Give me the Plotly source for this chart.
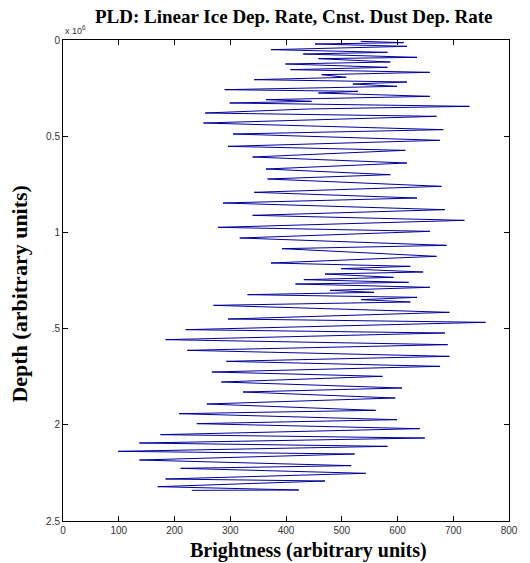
import plotly.graph_objects as go

# Brightness (arbitrary units) and depth (x 10^6, arbitrary units)
brightness = [
    534, 611, 452, 617, 373, 582, 431, 635, 458, 587, 399, 582, 408, 658, 464, 508,
    343, 617, 520, 599, 290, 529, 458, 658, 364, 446, 299, 729, 440,
    255, 670, 252, 682, 305, 676, 296, 614, 340, 617, 364, 587, 367,
    679, 343, 635, 287, 685, 340, 720, 278, 658, 317, 688, 393,
    670, 373, 623, 499, 646, 470, 593, 432, 620, 417, 658, 479, 558, 331, 635, 535,
    623, 270, 693, 296,
    758, 220, 685, 184, 690, 223, 693, 293, 676, 267, 573, 284, 608,
    323, 596, 258, 561, 208, 599, 240, 640, 175, 649, 137, 582, 99, 523,
    137, 517, 211, 543, 184, 470, 170, 423, 231,
]
depth = [
    0.0069, 0.0139, 0.0208, 0.0329, 0.0502, 0.0641, 0.0728, 0.0901, 0.0970, 0.1143,
    0.1247, 0.1420, 0.1542, 0.1680, 0.1802, 0.1940, 0.2062, 0.2183, 0.2287, 0.2408,
    0.2582, 0.2668, 0.2755, 0.2928, 0.3101, 0.3188, 0.3274, 0.3448, 0.3586,
    0.3794, 0.3967, 0.4314, 0.4660, 0.4886, 0.5215, 0.5527, 0.5735, 0.6081, 0.6393,
    0.6705, 0.6999, 0.7225,
    0.7606, 0.7917, 0.8212, 0.8472, 0.8819, 0.9113, 0.9373, 0.9737, 0.9945, 1.0291,
    1.0672, 1.0846,
    1.1244, 1.1590, 1.1764, 1.1885, 1.2058, 1.2162, 1.2335, 1.2457, 1.2595, 1.2682,
    1.2855, 1.3011, 1.3115, 1.3236, 1.3375, 1.3496, 1.3617, 1.3791, 1.4155, 1.4501,
    1.4674, 1.5055, 1.5229, 1.5575, 1.5835, 1.6130, 1.6441, 1.6701, 1.6961, 1.7256,
    1.7481, 1.7775, 1.8087,
    1.8295, 1.8607, 1.8919, 1.9248, 1.9422, 1.9733, 1.9941, 2.0201, 2.0513, 2.0686,
    2.0946, 2.1119, 2.1379, 2.1518,
    2.1830, 2.2124, 2.2263, 2.2522, 2.2817, 2.2921, 2.3216, 2.3389, 2.3406,
]

x_ticks = [0, 100, 200, 300, 400, 500, 600, 700, 800]
y_ticks = [0, 0.5, 1, 1.5, 2, 2.5]
y_tick_text = ["0", "0.5", "1", ".5", "2", "2.5"]

# page body has an 8px default margin; figure sized so it fits the 530x563 window
W, H = 522, 555
L, R, T, B = 55, 15, 32, 42
PW = W - L - R
PH = H - T - B

fig = go.Figure()
fig.add_trace(go.Scatter(
    x=brightness, y=depth, mode="lines",
    line=dict(color="#00009a", width=1),
    showlegend=False, hoverinfo="skip",
))

tickfont = dict(family="Liberation Sans, Arial, sans-serif", size=10, color="#333333")
serif = "Liberation Serif, Times New Roman, serif"
fig.update_layout(
    width=W, height=H,
    margin=dict(l=L, r=R, t=T, b=B),
    paper_bgcolor="white", plot_bgcolor="white",
    xaxis=dict(
        range=[0, 800], tickvals=x_ticks, ticks="inside", ticklen=5,
        showline=True, linecolor="black", linewidth=1, mirror="ticks",
        showgrid=False, zeroline=False, tickfont=tickfont, tickcolor="black",
    ),
    yaxis=dict(
        range=[2.5, 0], tickvals=y_ticks, ticktext=y_tick_text, ticks="inside", ticklen=5,
        showline=True, linecolor="black", linewidth=1, mirror="ticks",
        showgrid=False, zeroline=False, tickfont=tickfont, tickcolor="black",
    ),
    annotations=[
        dict(text="<b>PLD: Linear Ice Dep. Rate, Cnst. Dust Dep. Rate</b>",
             xref="paper", yref="paper", x=(297 - 63) / PW, y=1 + 23 / PH,
             xanchor="center", yanchor="middle", showarrow=False,
             font=dict(family=serif, size=19, color="black")),
        dict(text="<b>Brightness (arbitrary units)</b>",
             xref="paper", yref="paper", x=(312 - 63) / PW, y=-29 / PH,
             xanchor="center", yanchor="middle", showarrow=False,
             font=dict(family=serif, size=20, color="black")),
        dict(text="<b>Depth (arbitrary units)</b>", textangle=-90,
             xref="paper", yref="paper", x=-45 / PW, y=(521 - 294) / PH,
             xanchor="center", yanchor="middle", showarrow=False,
             font=dict(family=serif, size=22, color="black")),
        dict(text="x 10<sup>6</sup>",
             xref="paper", yref="paper", x=0, y=1 + 2 / PH,
             xanchor="left", yanchor="bottom", showarrow=False,
             font=dict(family="Liberation Sans, Arial, sans-serif", size=9, color="#333333")),
    ],
)

fig.write_html("out.html")
